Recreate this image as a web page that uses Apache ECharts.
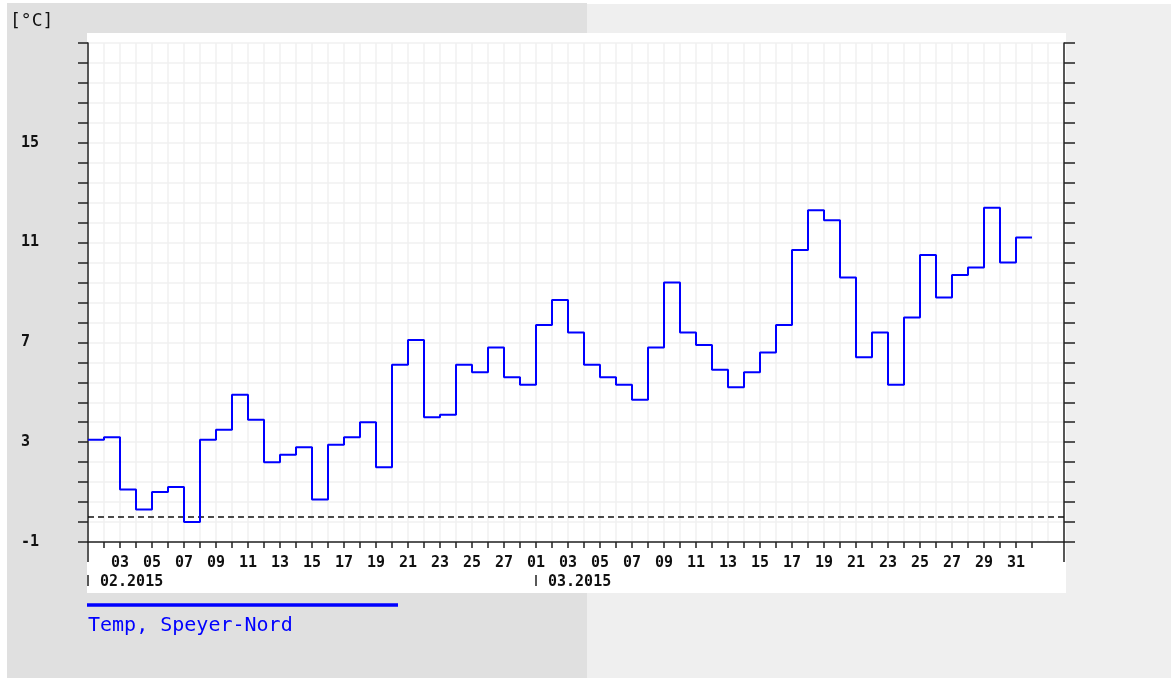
<!DOCTYPE html>
<html>
<head>
<meta charset="utf-8">
<title>Temp, Speyer-Nord</title>
<script src="https://cdn.jsdelivr.net/npm/echarts@6/dist/echarts.min.js"></script>
<style>
  html, body { margin: 0; padding: 0; background: #fff; }
  #main { width: 1171px; height: 678px; }
</style>
</head>
<body>
<div id="main"></div>
<script>
// day labels, 01.02.2015 .. 03.04.2015 (axis runs one day past the data on the right)
const days = [
  '01','02','03','04','05','06','07','08','09','10','11','12','13','14',
  '15','16','17','18','19','20','21','22','23','24','25','26','27','28',
  '01','02','03','04','05','06','07','08','09','10','11','12','13','14','15','16',
  '17','18','19','20','21','22','23','24','25','26','27','28','29','30','31',
  '01','02','03'
];
const monthLabels = ['02.2015', '03.2015'];
const monthStart = [0, 28];

// daily mean temperature [°C]
const tempFeb = [3.1, 3.2, 1.1, 0.3, 1.0, 1.2, -0.2, 3.1, 3.5, 4.9, 3.9, 2.2, 2.5, 2.8,
                 0.7, 2.9, 3.2, 3.8, 2.0, 6.1, 7.1, 4.0, 4.1, 6.1, 5.8, 6.8, 5.6, 5.3];
const tempMar = [7.7, 8.7, 7.4, 6.1, 5.6, 5.3, 4.7, 6.8, 9.4, 7.4, 6.9, 5.9, 5.2, 5.8, 6.6, 7.7,
                 10.7, 12.3, 11.9, 9.6, 6.4, 7.4, 5.3, 8.0, 10.5, 8.8, 9.7, 10.0, 12.4, 10.2, 11.2];

// y axis: -1 .. 19, tick every 0.8, label every 5th tick
const yLabels = [-1, 3, 7, 11, 15];
const yMin = -1, yMax = 19, yTicks = 25;
const zeroLine = 0;

const temps = tempFeb.concat(tempMar);
// last day is closed by repeating its value one day later (step line)
const lineData = temps.concat([temps[temps.length - 1]]);

const mono = '"DejaVu Sans Mono", "Liberation Mono", monospace';
const axisColor = '#222';
const gridColor = '#f0f0f0';

var chartDom = document.getElementById('main');
var myChart = echarts.init(chartDom, null, { renderer: 'canvas' });
var option;

option = {
  animation: false,
  backgroundColor: '#ffffff',
  title: {
    text: '[°C]',
    left: 5,
    top: 7,
    textStyle: { fontFamily: mono, fontSize: 18, fontWeight: 'normal', color: '#111' }
  },
  legend: {
    left: 77,
    top: 611,
    itemWidth: 0,
    itemHeight: 0,
    data: ['Temp, Speyer-Nord'],
    textStyle: { fontFamily: mono, fontSize: 20, color: '#0000ff' }
  },
  graphic: [
    { type: 'rect', z: -100, shape: { x: 7, y: 3, width: 580, height: 675 }, style: { fill: '#e0e0e0' } },
    { type: 'rect', z: -100, shape: { x: 587, y: 4, width: 584, height: 674 }, style: { fill: '#efefef' } },
    { type: 'rect', z: -90, shape: { x: 87, y: 33, width: 979, height: 560 }, style: { fill: '#ffffff' } },
    { type: 'line', z: 10, shape: { x1: 87, y1: 605, x2: 398, y2: 605 }, style: { stroke: '#0000ff', lineWidth: 3.5 } }
  ],
  grid: { left: 88, right: 107, top: 43, bottom: 136 },
  xAxis: [
    {
      type: 'category',
      position: 'bottom',
      data: days,
      boundaryGap: false,
      axisLine: { onZero: false, lineStyle: { color: axisColor, width: 1.5 } },
      axisTick: {
        length: 6,
        lineStyle: { color: axisColor, width: 1.5 },
        interval: (i) => i >= 1 && i <= temps.length
      },
      axisLabel: {
        interval: (i) => i % 2 === 0 && i >= 2 && i < temps.length,
        margin: 14,
        fontFamily: mono,
        fontSize: 15,
        fontWeight: 'bold',
        color: '#111'
      },
      splitLine: { show: true, interval: 0, lineStyle: { color: gridColor, width: 1.5 } }
    },
    {
      // long marks at both ends of the axis
      type: 'category',
      position: 'bottom',
      data: days,
      boundaryGap: false,
      axisLine: { show: false, onZero: false },
      axisTick: {
        length: 20,
        lineStyle: { color: axisColor, width: 1.5 },
        interval: (i) => i === 0 || i === days.length - 1
      },
      axisLabel: { show: false },
      splitLine: { show: false }
    },
    {
      // month row
      type: 'category',
      position: 'bottom',
      data: days,
      boundaryGap: false,
      offset: 33,
      axisLine: { show: false, onZero: false },
      axisTick: {
        length: 11,
        lineStyle: { color: axisColor, width: 1.5 },
        interval: (i) => monthStart.indexOf(i) >= 0
      },
      axisLabel: {
        interval: (i) => monthStart.indexOf(i) >= 0,
        formatter: (v, i) => monthLabels[monthStart.indexOf(i)],
        align: 'left',
        verticalAlign: 'middle',
        margin: 7,
        padding: [0, 0, 0, 12],
        fontFamily: mono,
        fontSize: 15,
        fontWeight: 'bold',
        color: '#111'
      },
      splitLine: { show: false }
    }
  ],
  yAxis: [
    {
      // data axis
      type: 'value',
      min: yMin,
      max: yMax,
      show: false
    },
    {
      // tick axis, left
      type: 'value',
      min: 0,
      max: yTicks,
      interval: 1,
      position: 'left',
      axisLine: { show: true, onZero: false, lineStyle: { color: axisColor, width: 1.5 } },
      axisTick: { show: true, length: 10, lineStyle: { color: axisColor, width: 1.5 } },
      axisLabel: {
        align: 'left',
        margin: 67,
        fontFamily: mono,
        fontSize: 15,
        fontWeight: 'bold',
        color: '#111',
        formatter: (v) => (v % 5 === 0 && yLabels[v / 5] !== undefined) ? String(yLabels[v / 5]) : ''
      },
      splitLine: { show: true, lineStyle: { color: gridColor, width: 1.5 } }
    },
    {
      // tick axis, right
      type: 'value',
      min: 0,
      max: yTicks,
      interval: 1,
      position: 'right',
      axisLine: { show: true, onZero: false, lineStyle: { color: axisColor, width: 1.5 } },
      axisTick: { show: true, length: 11, lineStyle: { color: axisColor, width: 1.5 } },
      axisLabel: { show: false },
      splitLine: { show: false }
    }
  ],
  series: [
    {
      name: 'Temp, Speyer-Nord',
      type: 'line',
      step: 'end',
      xAxisIndex: 0,
      yAxisIndex: 0,
      symbol: 'none',
      data: lineData,
      lineStyle: { color: '#0000ff', width: 2 },
      itemStyle: { color: '#0000ff' },
      z: 5,
      markLine: {
        silent: true,
        symbol: 'none',
        label: { show: false },
        lineStyle: { color: '#111', type: [6, 4], width: 1.5 },
        data: [{ yAxis: zeroLine }]
      }
    }
  ]
};

option && myChart.setOption(option);
</script>
</body>
</html>
